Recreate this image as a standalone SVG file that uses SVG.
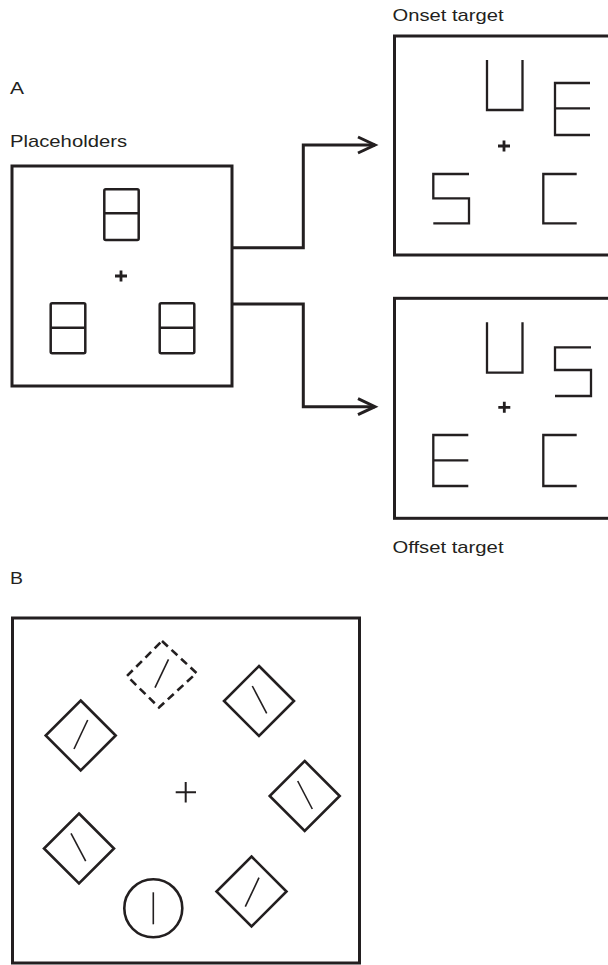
<svg xmlns="http://www.w3.org/2000/svg" width="608" height="965" viewBox="0 0 608 965">
<defs>
<style>
.lbl{font-family:"Liberation Sans",Arial,sans-serif;font-size:17px;fill:#231f20}
.frame{fill:none;stroke:#231f20;stroke-width:3}
.ph{fill:none;stroke:#231f20;stroke-width:2.5}
.seg{fill:none;stroke:#231f20;stroke-width:2.3;stroke-linejoin:miter}
.fix{fill:none;stroke:#231f20;stroke-width:2.8}
.fixB{fill:none;stroke:#231f20;stroke-width:2}
.dia{fill:none;stroke:#231f20;stroke-width:2.6;stroke-linejoin:miter}
.dash{stroke-dasharray:8 5}
.bar{fill:none;stroke:#231f20;stroke-width:1.6}
.conn{fill:none;stroke:#231f20;stroke-width:3}
</style>
<marker id="arr" markerUnits="userSpaceOnUse" markerWidth="24" markerHeight="24" viewBox="-20 -12 24 24" refX="0" refY="0" orient="auto">
<path d="M-17,-8 L0,0 L-17,8" fill="none" stroke="#231f20" stroke-width="3"/>
</marker>
</defs>
<rect width="608" height="965" fill="#ffffff"/>

<text class="lbl" x="10" y="94" textLength="14" lengthAdjust="spacingAndGlyphs">A</text>
<text class="lbl" x="10" y="584" textLength="13" lengthAdjust="spacingAndGlyphs">B</text>

<g id="placeholders">
<text class="lbl" x="10" y="147" textLength="117" lengthAdjust="spacingAndGlyphs">Placeholders</text>
<rect class="frame" x="12" y="166" width="220" height="220"/>
<rect class="ph" x="104.3" y="189.3" width="34.4" height="50.7" rx="1.5"/>
<line class="ph" x1="104.3" y1="213.3" x2="138.7" y2="213.3"/>
<rect class="ph" x="50.7" y="303.3" width="34.6" height="50" rx="1.5"/>
<line class="ph" x1="50.7" y1="327.7" x2="85.3" y2="327.7"/>
<rect class="ph" x="159.7" y="303.3" width="34.6" height="50" rx="1.5"/>
<line class="ph" x1="159.7" y1="327.7" x2="194.3" y2="327.7"/>
<path class="fix" d="M115,276 H127 M121,270.5 V281.5"/>
</g>

<g id="onset">
<text class="lbl" x="392.5" y="20.5" textLength="111" lengthAdjust="spacingAndGlyphs">Onset target</text>
<rect class="frame" x="394.5" y="36" width="222" height="219"/>
<path class="seg" d="M487,60 V110 H522.5 V60"/>
<path class="seg" d="M590,83 H555 V135 H590 M555,108.3 H590"/>
<path class="seg" d="M469,174 H433.3 V198.3 H469 V223.3 H433.3"/>
<path class="seg" d="M576.7,174 H543.3 V223.3 H576.7"/>
<path class="fix" d="M498,146 H510 M504,140.5 V151.5"/>
</g>

<g id="offset">
<text class="lbl" x="392.5" y="553.3" textLength="111" lengthAdjust="spacingAndGlyphs">Offset target</text>
<rect class="frame" x="394.5" y="298.3" width="222" height="220"/>
<path class="seg" d="M487,322.3 V372.7 H522.5 V322.3"/>
<path class="seg" d="M591,347.3 H555 V370 H591 V396 H555"/>
<path class="seg" d="M468.3,435 H433.3 V486 H468.3 M433.3,460.3 H468.3"/>
<path class="seg" d="M576.7,435 H543.3 V486 H576.7"/>
<path class="fix" d="M498.3,407.3 H510.3 M504.3,401.8 V412.8"/>
</g>

<g id="connectors">
<path class="conn" d="M232,247.7 H303.3 V145 H375" marker-end="url(#arr)"/>
<path class="conn" d="M232,304 H303.3 V406.7 H375" marker-end="url(#arr)"/>
</g>

<g id="panelB">
<rect class="frame" x="12.5" y="618" width="347" height="345"/>
<path class="fixB" d="M175.7,792.3 H196 M185.7,782 V802.5"/>
</g>

<g id="item-dashed">
<path class="dia dash" d="M162,641 L196.5,673 L159,707.5 L127,676 Z"/>
<line class="bar" x1="168.5" y1="659.3" x2="155" y2="687.7"/>
</g>
<g id="item-upper-right">
<path class="dia" d="M259,666 L294,701 L259,736 L224,701 Z"/>
<line class="bar" x1="252.3" y1="686" x2="266.7" y2="713.3"/>
</g>
<g id="item-right">
<path class="dia" d="M304.7,761 L339.7,796 L304.7,831 L269.7,796 Z"/>
<line class="bar" x1="297.7" y1="781" x2="312.3" y2="809"/>
</g>
<g id="item-lower-right">
<path class="dia" d="M251.5,856.5 L286.5,891.5 L251.5,926.5 L216.5,891.5 Z"/>
<line class="bar" x1="259" y1="877.7" x2="245.3" y2="906.7"/>
</g>
<g id="item-circle">
<circle class="dia" cx="153.3" cy="908.3" r="29"/>
<line class="bar" x1="153.3" y1="892.3" x2="153.3" y2="924.3"/>
</g>
<g id="item-lower-left">
<path class="dia" d="M79,813.5 L114,848.5 L79,883.5 L44,848.5 Z"/>
<line class="bar" x1="71" y1="833.3" x2="85.7" y2="861"/>
</g>
<g id="item-upper-left">
<path class="dia" d="M80.7,700.5 L115.7,735.5 L80.7,770.5 L45.7,735.5 Z"/>
<line class="bar" x1="87.7" y1="720" x2="74" y2="749"/>
</g>
</svg>
